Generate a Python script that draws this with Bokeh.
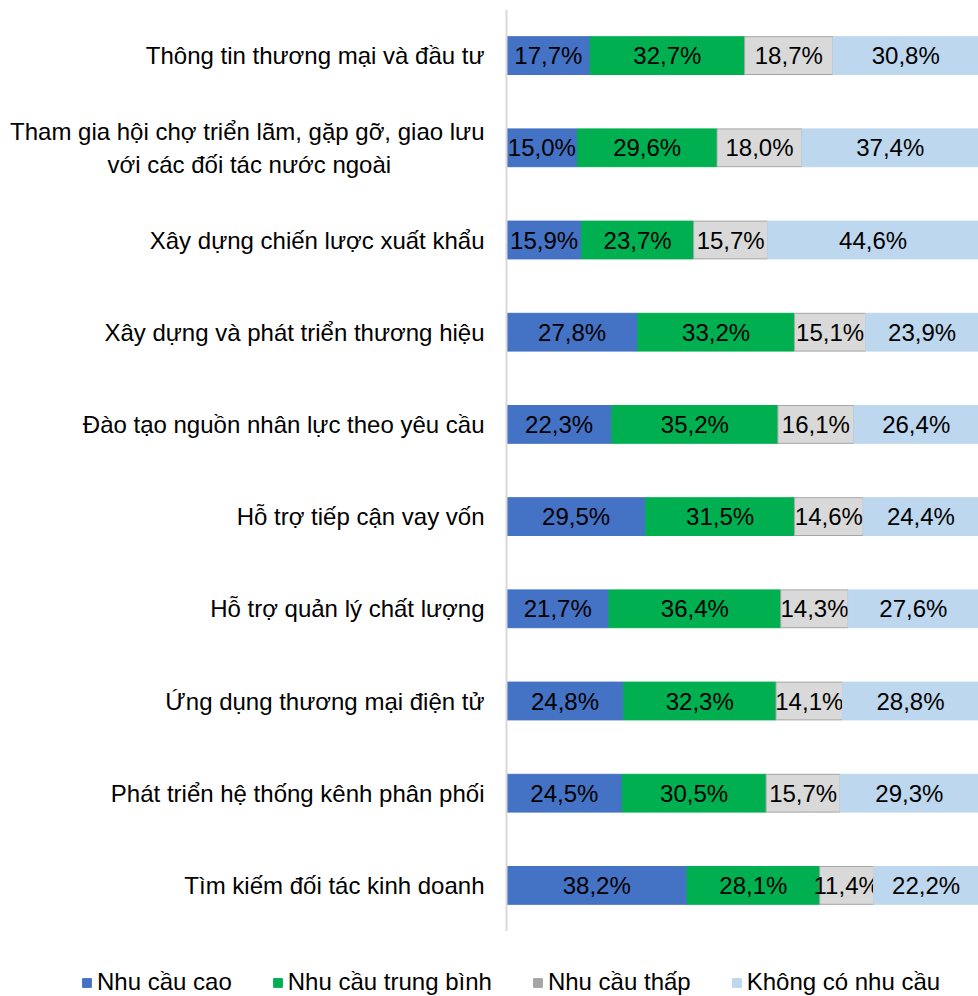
from bokeh.plotting import figure
from bokeh.models import ColumnDataSource, Legend, LegendItem, Range1d, FactorRange
from bokeh.layouts import column, row
from bokeh.core.properties import value
from bokeh.embed import file_html
from bokeh.resources import INLINE

categories = [
    "Thông tin thương mại và đầu tư",
    "Tham gia hội chợ triển lãm, gặp gỡ, giao lưu\nvới các đối tác nước ngoài" + "\u00a0" * 14,
    "Xây dựng chiến lược xuất khẩu",
    "Xây dựng và phát triển thương hiệu",
    "Đào tạo nguồn nhân lực theo yêu cầu",
    "Hỗ trợ tiếp cận vay vốn",
    "Hỗ trợ quản lý chất lượng",
    "Ứng dụng thương mại điện tử",
    "Phát triển hệ thống kênh phân phối",
    "Tìm kiếm đối tác kinh doanh",
]
nhu_cau_cao = [17.7, 15.0, 15.9, 27.8, 22.3, 29.5, 21.7, 24.8, 24.5, 38.2]
nhu_cau_tb = [32.7, 29.6, 23.7, 33.2, 35.2, 31.5, 36.4, 32.3, 30.5, 28.1]
nhu_cau_thap = [18.7, 18.0, 15.7, 15.1, 16.1, 14.6, 14.3, 14.1, 15.7, 11.4]
khong_co = [30.8, 37.4, 44.6, 23.9, 26.4, 24.4, 27.6, 28.8, 29.3, 22.2]
series_names = ["Nhu cầu cao", "Nhu cầu trung bình", "Nhu cầu thấp", "Không có nhu cầu"]

FONT = "Liberation Sans"
FS = "24px"
fills = ["#4472C4", "#00B050", "#D9D9D9", "#BDD7EE"]
lines = ["#4472C4", "#00B050", "#A5A5A5", "#BDD7EE"]
legend_colors = ["#4472C4", "#00B050", "#A5A5A5", "#BDD7EE"]

series = [nhu_cau_cao, nhu_cau_tb, nhu_cau_thap, khong_co]
totals = [sum(v) for v in zip(*series)]

p = figure(
    width=978, height=931,
    y_range=FactorRange(*list(reversed(categories)), range_padding=0),
    x_range=Range1d(0, 1),
    output_backend="svg", toolbar_location=None,
    min_border_left=506, min_border_right=0, min_border_top=9, min_border_bottom=0,
)

left = [0.0] * len(categories)
for s, fc, lc in zip(series, fills, lines):
    frac = [v / t for v, t in zip(s, totals)]
    right = [l + f for l, f in zip(left, frac)]
    src = ColumnDataSource(dict(
        y=categories, left=left, right=right,
        mid=[(l + r) / 2 for l, r in zip(left, right)],
        lab=[f"{v:.1f}%".replace(".", ",") for v in s],
    ))
    p.hbar(y="y", left="left", right="right", height=0.41, source=src,
           fill_color=fc, line_color=lc, line_width=1)
    p.text(x="mid", y="y", text="lab", source=src, text_align="center",
           text_baseline="middle", text_font=value(FONT),
           text_font_size=FS, text_color="#000000")
    left = right

p.xaxis.visible = False
p.xgrid.visible = False
p.ygrid.visible = False
p.outline_line_color = None
p.yaxis.axis_line_color = "#D9D9D9"
p.yaxis.axis_line_width = 2
p.yaxis.major_tick_line_color = None
p.yaxis.minor_tick_line_color = None
p.yaxis.major_tick_out = 0
p.yaxis.major_label_standoff = 22
p.yaxis.major_label_text_font = FONT
p.yaxis.major_label_text_font_size = FS
p.yaxis.major_label_text_color = "#000000"

# legend figure (legend-only panel below the chart)
lf = figure(width=978, height=65, x_range=Range1d(0, 1), y_range=Range1d(0, 1),
            output_backend="svg", toolbar_location=None,
            min_border_left=0, min_border_right=0, min_border_top=0, min_border_bottom=0)
lf.xaxis.visible = False
lf.yaxis.visible = False
lf.grid.visible = False
lf.outline_line_color = None
items = []
for name, c in zip(series_names, legend_colors):
    src = ColumnDataSource(dict(x=[0.5], y=[0.5]))
    r = lf.rect(x="x", y="y", width=0.01, height=0.01, source=src,
                fill_color=c, line_color=c, visible=False)
    items.append(LegendItem(label=name, renderers=[r]))
legend = Legend(items=items, orientation="horizontal", location=(81, 0),
                label_text_font=FONT, label_text_font_size=FS,
                label_text_color="#000000", glyph_width=11, glyph_height=11,
                label_standoff=5, spacing=40, padding=0, margin=0,
                inactive_fill_alpha=0,
                border_line_color=None, background_fill_alpha=0)
lf.add_layout(legend, "center")

layout = column(p, row(lf), spacing=0)
open("out.html", "w").write(file_html(layout, INLINE))
